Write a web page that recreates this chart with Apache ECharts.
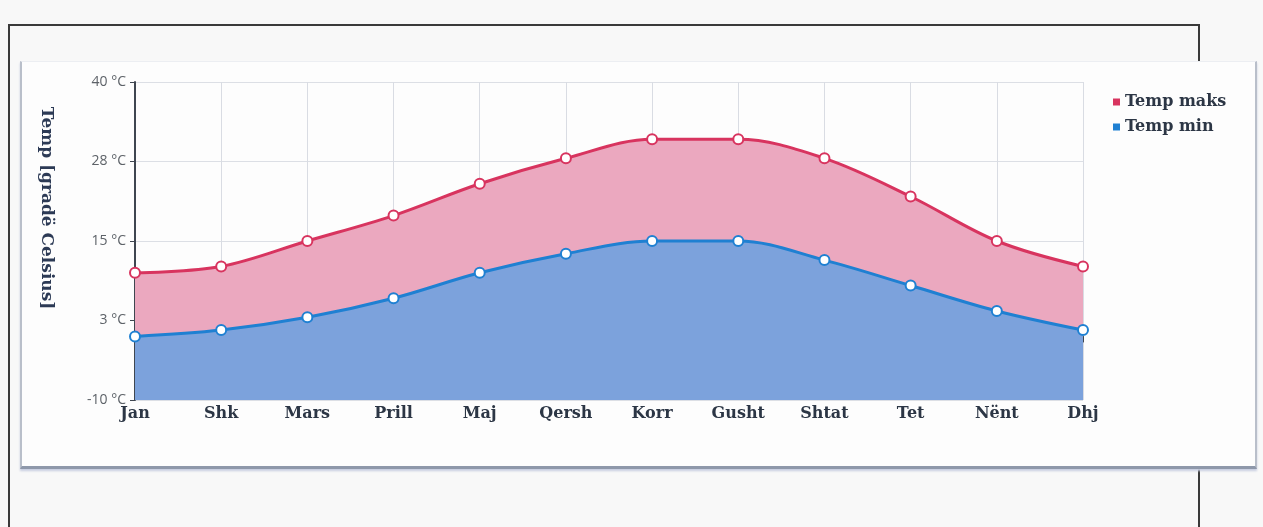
<!DOCTYPE html>
<html>
<head>
<meta charset="utf-8">
<script src="https://cdn.jsdelivr.net/npm/echarts@6/dist/echarts.min.js"></script>
<style>
  html, body { margin:0; padding:0; background:#f8f8f8; }
  #wrap { position:relative; width:1263px; height:527px; overflow:hidden; }
  .ln { position:absolute; background:#3a3a3a; }
  #panel { position:absolute; left:20px; top:61px; width:1233px; height:404px; background:#fdfdfd;
           border-left:2px solid #b9bfca; border-right:2px solid #b9bfca; border-top:1px solid #eceef2;
           border-bottom:3px solid #8e98aa; box-shadow:0 2px 2px #c7cde0; }
  #chart { position:absolute; left:0; top:0; width:1263px; height:527px; }
</style>
</head>
<body>
<div id="wrap">
  <div class="ln" style="left:8px; top:24px; width:1192px; height:2px;"></div>
  <div class="ln" style="left:8px; top:24px; width:2px; height:503px;"></div>
  <div class="ln" style="left:1198px; top:24px; width:2px; height:503px;"></div>
  <div id="panel"></div>
  <div id="chart"></div>
</div>
<script>
const months = ['Jan', 'Shk', 'Mars', 'Prill', 'Maj', 'Qersh', 'Korr', 'Gusht', 'Shtat', 'Tet', 'Nënt', 'Dhj'];
const tempMax = [10, 11, 15, 19, 24, 28, 31, 31, 28, 22, 15, 11];
const tempMin = [0, 1, 3, 6, 10, 13, 15, 15, 12, 8, 4, 1];
const yTickLabels = ['-10 °C', '3 °C', '15 °C', '28 °C', '40 °C'];
const seriesNames = ['Temp maks', 'Temp min'];
const seriesColors = ['#d8345f', '#1f80d2'];
const yAxisTitle = 'Temp [gradë Celsius]';

const chart = echarts.init(document.getElementById('chart'), null, { renderer: 'canvas' });
const serif = '"DejaVu Serif", "Liberation Serif", serif';
chart.setOption({
  backgroundColor: 'transparent',
  animation: false,
  grid: { left: 135, right: 180, top: 82, bottom: 127 },
  legend: {
    orient: 'vertical', left: 1108, top: 89, itemGap: 9,
    icon: 'rect', itemWidth: 7, itemHeight: 7,
    textStyle: { fontFamily: serif, fontWeight: 'bold', fontSize: 16, color: '#2c3645' },
    data: seriesNames.map((n, i) => ({ name: n, itemStyle: { color: seriesColors[i], borderWidth: 0 } }))
  },
  graphic: [{
    type: 'text', x: 46, y: 208, rotation: -Math.PI / 2,
    style: { text: yAxisTitle, fontFamily: serif, fontWeight: 'bold', fontSize: 17,
             fill: '#2c3a55', align: 'center', verticalAlign: 'middle' }
  }],
  xAxis: {
    type: 'category', boundaryGap: false, data: months,
    axisLine: { lineStyle: { color: '#3f4650', width: 2 } },
    axisTick: { show: true, length: 6, lineStyle: { color: '#3f4650' } },
    axisLabel: { fontFamily: serif, fontWeight: 'bold', fontSize: 16, color: '#2c3645', margin: 6 },
    splitLine: { show: true, lineStyle: { color: '#d9dce3', width: 1 } }
  },
  yAxis: {
    type: 'value', min: -10, max: 40, interval: 12.5,
    axisLine: { show: true, lineStyle: { color: '#3f4650', width: 2 } },
    axisTick: { show: true, length: 5, lineStyle: { color: '#3f4650' } },
    axisLabel: { formatter: (v, i) => yTickLabels[i], fontFamily: '"Open Sans", sans-serif', fontSize: 14, color: '#5d6268', margin: 9 },
    splitLine: { show: true, lineStyle: { color: '#dcdfe5', width: 1 } }
  },
  series: [
    {
      name: seriesNames[0], type: 'line', data: tempMax, smooth: 0.35,
      symbol: 'circle', symbolSize: 10,
      lineStyle: { color: seriesColors[0], width: 3 },
      itemStyle: { color: '#ffffff', borderColor: seriesColors[0], borderWidth: 2 },
      areaStyle: { origin: 'start', color: '#eba8bf', opacity: 1 },
      z: 2
    },
    {
      name: seriesNames[1], type: 'line', data: tempMin, smooth: 0.35,
      symbol: 'circle', symbolSize: 10,
      lineStyle: { color: seriesColors[1], width: 3 },
      itemStyle: { color: '#ffffff', borderColor: seriesColors[1], borderWidth: 2 },
      areaStyle: { origin: 'start', color: '#7ca2dc', opacity: 1 },
      z: 3
    }
  ]
});
</script>
</body>
</html>
